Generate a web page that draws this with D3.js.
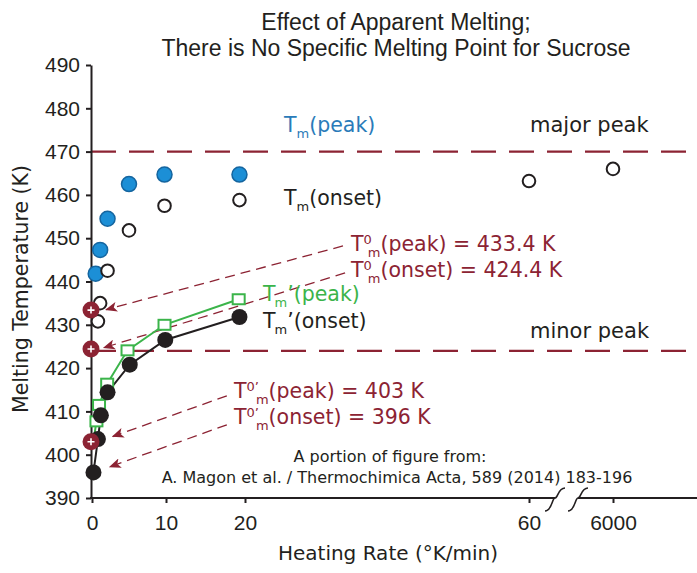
<!DOCTYPE html>
<html lang="en">
<head>
<meta charset="UTF-8">
<title>Effect of Apparent Melting</title>
<script src="https://d3js.org/d3.v7.min.js"></script>
<style>
    body { margin: 0; background: #fff; }
    svg { display: block; }
    text { font-family: "DejaVu Sans", sans-serif; }
</style>
</head>
<body>
<svg id="chart"></svg>
<script>
// heating rate (K/min) and temperature (K)
const rateTicks = [0, 10, 20, 60, 6000];
const tempTicks = [390, 400, 410, 420, 430, 440, 450, 460, 470, 480, 490];

// Tm(peak), filled blue
const peakRate = [0.5, 1.1, 2.1, 5, 9.8, 19.3];
const peakTemp = [441.8, 447.3, 454.5, 462.5, 464.7, 464.7];

// Tm(onset), open circles
const onsetRate = [0.8, 1.1, 2.1, 5, 9.8, 19.3, 60, 6000];
const onsetTemp = [430.8, 435.0, 442.5, 451.8, 457.5, 458.8, 463.2, 466.0];

// Tm'(peak), green squares
const slowPeakRate = [0.2, 0.6, 0.95, 2.05, 4.8, 9.8, 19.2];
const slowPeakTemp = [403.2, 407.7, 411.5, 416.4, 424.1, 430.0, 435.9];

// Tm'(onset), filled black
const slowOnsetRate = [0.2, 0.8, 1.2, 2.1, 5.1, 9.9, 19.3];
const slowOnsetTemp = [395.9, 403.6, 409.1, 414.4, 420.8, 426.5, 431.8];

// extrapolated zero-rate values marked on the axis
const extrapTemp = [433.4, 424.4, 403];

// major / minor peak levels
const peakLevels = [470, 424];

// arrows: tail -> head, in (rate, temperature)
const arrowFrom = [[33.8, 448.2], [34.1, 442.0], [17.7, 413.6], [17.7, 406.9]];
const arrowTo = [[1.9, 433.5], [1.6, 424.7], [2.8, 404.2], [2.4, 397.2]];

const W = 697, H = 573;
const maroon = "#8c2333", blue = "#1c8fd6", green = "#3bb44a", ink = "#231f20";

const svg = d3.select("#chart").attr("width", W).attr("height", H);

const x = d3.scaleLinear()
    .domain([0, 10, 20, 60, 6000])
    .range([92, 166, 245, 529, 613]);

const y = d3.scaleLinear()
    .domain([390, 490])
    .range([498, 65]);

const zip = (a, b) => a.map((v, i) => [v, b[i]]);

// title
svg.append("text").attr("x", 396).attr("y", 30).attr("text-anchor", "middle")
    .style("font-family", "Liberation Sans, Arial, sans-serif").style("font-size", "23px").attr("fill", ink)
    .text("Effect of Apparent Melting;");
svg.append("text").attr("x", 396).attr("y", 56).attr("text-anchor", "middle")
    .style("font-family", "Liberation Sans, Arial, sans-serif").style("font-size", "23px").attr("fill", ink)
    .text("There is No Specific Melting Point for Sucrose");

// dashed peak levels
svg.selectAll(".level").data(peakLevels).join("line")
    .attr("x1", 91).attr("x2", W)
    .attr("y1", d => y(d)).attr("y2", d => y(d))
    .attr("stroke", maroon).attr("stroke-width", 2.2)
    .attr("stroke-dasharray", "25,13");

// axes
const yAxis = svg.append("g").attr("transform", "translate(91,0)")
    .call(d3.axisLeft(y).tickValues(tempTicks).tickSize(5).tickSizeOuter(0).tickPadding(6));
yAxis.select(".domain").attr("stroke", ink).attr("stroke-width", 2);
yAxis.selectAll(".tick line").attr("stroke", ink).attr("stroke-width", 2);
yAxis.selectAll("text").style("font-family", "Liberation Sans, Arial, sans-serif")
    .style("font-size", "21px").attr("fill", ink);

const xAxis = svg.append("g").attr("transform", "translate(0,498)")
    .call(d3.axisBottom(x).tickValues(rateTicks).tickFormat(d3.format("d")).tickSize(5).tickPadding(12));
xAxis.select(".domain").remove();
xAxis.selectAll(".tick line").attr("stroke", ink).attr("stroke-width", 2);
xAxis.selectAll("text").style("font-family", "Liberation Sans, Arial, sans-serif")
    .style("font-size", "21px").attr("fill", ink);

// axis line with break
const b1 = x(60) + 26, b2 = x(60) + 49;
svg.append("line").attr("x1", 90).attr("x2", b1).attr("y1", 498).attr("y2", 498)
    .attr("stroke", ink).attr("stroke-width", 2);
svg.append("line").attr("x1", b2).attr("x2", W).attr("y1", 498).attr("y2", 498)
    .attr("stroke", ink).attr("stroke-width", 2);
[b1, b2].forEach(c => {
    svg.append("path")
        .attr("d", `M${c - 10},511 C${c - 3},511 ${c - 3},498 ${c},498 C${c + 3},498 ${c + 3},488 ${c + 10},488`)
        .attr("fill", "none").attr("stroke", ink).attr("stroke-width", 1.6);
});

// arrows
svg.append("defs").append("marker")
    .attr("id", "head").attr("viewBox", "0 0 12 10")
    .attr("refX", 11).attr("refY", 5)
    .attr("markerWidth", 12).attr("markerHeight", 10)
    .attr("markerUnits", "userSpaceOnUse").attr("orient", "auto")
    .append("path").attr("d", "M0,0 L12,5 L0,10 L3,5 Z").attr("fill", maroon);

svg.selectAll(".arrow").data(arrowFrom).join("line")
    .attr("x1", d => x(d[0])).attr("y1", d => y(d[1]))
    .attr("x2", (d, i) => x(arrowTo[i][0])).attr("y2", (d, i) => y(arrowTo[i][1]))
    .attr("stroke", maroon).attr("stroke-width", 1.3)
    .attr("stroke-dasharray", "10,6")
    .attr("marker-end", "url(#head)");

// lines
const line = d3.line().x(d => x(d[0])).y(d => y(d[1]));
svg.append("path").datum(zip(slowPeakRate, slowPeakTemp)).attr("d", line)
    .attr("fill", "none").attr("stroke", green).attr("stroke-width", 2);
svg.append("path").datum(zip(slowOnsetRate, slowOnsetTemp)).attr("d", line)
    .attr("fill", "none").attr("stroke", ink).attr("stroke-width", 2);

// Tm(peak)
svg.selectAll(".peak").data(zip(peakRate, peakTemp)).join("circle")
    .attr("cx", d => x(d[0])).attr("cy", d => y(d[1])).attr("r", 7.5)
    .attr("fill", blue).attr("stroke", "#15659f").attr("stroke-width", 1.5);

// Tm(onset)
svg.selectAll(".onset").data(zip(onsetRate, onsetTemp)).join("circle")
    .attr("cx", d => x(d[0])).attr("cy", d => y(d[1])).attr("r", 6.3)
    .attr("fill", "#fff").attr("stroke", ink).attr("stroke-width", 2);

// Tm'(peak)
svg.selectAll(".spk").data(zip(slowPeakRate, slowPeakTemp).slice(1)).join("rect")
    .attr("x", d => x(d[0]) - 6).attr("y", d => y(d[1]) - 5)
    .attr("width", 12).attr("height", 10)
    .attr("fill", "#fff").attr("stroke", green).attr("stroke-width", 2);

// Tm'(onset)
svg.selectAll(".son").data(zip(slowOnsetRate, slowOnsetTemp)).join("circle")
    .attr("cx", d => x(d[0])).attr("cy", d => y(d[1])).attr("r", 8)
    .attr("fill", ink);

// extrapolated points on the axis
const ext = svg.selectAll(".ext").data(extrapTemp).join("g")
    .attr("transform", d => `translate(${x(0) - 1},${y(d)})`);
ext.append("circle").attr("r", 8.5).attr("fill", maroon);
ext.append("path").attr("d", "M-3.5,0 H3.5 M0,-3.5 V3.5")
    .attr("stroke", "#fff").attr("stroke-width", 1.6);

// rich labels with sub/superscripts
function label(px, py, parts, color, size) {
    const t = svg.append("text").attr("x", px).attr("y", py)
        .attr("fill", color).style("font-size", size + "px");
    let shift = 0;
    parts.forEach(([str, kind, dx]) => {
        const target = kind === "sup" ? -7 : kind === "sub" ? 6 : 0;
        t.append("tspan").attr("dy", target - shift).attr("dx", dx || 0)
            .style("font-size", kind ? "13px" : null).text(str);
        shift = target;
    });
}

label(284, 132, [["T"], ["m", "sub"], ["(peak)"]], "#2a7bb9", 20.5);
label(284, 205, [["T"], ["m", "sub"], ["(onset)"]], ink, 20.5);
label(351, 251, [["T"], ["0", "sup"], ["m", "sub", -4], ["(peak) = 433.4 K"]], maroon, 20.5);
label(351, 277, [["T"], ["0", "sup"], ["m", "sub", -4], ["(onset) = 424.4 K"]], maroon, 20.5);
label(263, 301, [["T"], ["m", "sub", -1], ["\u2019(peak)"]], green, 20.5);
label(263, 328, [["T"], ["m", "sub", -1], ["\u2019(onset)"]], ink, 20.5);
label(234, 398, [["T"], ["0\u2019", "sup"], ["m", "sub", -3], ["(peak) = 403 K"]], maroon, 20.5);
label(234, 424, [["T"], ["0\u2019", "sup"], ["m", "sub", -3], ["(onset) = 396 K"]], maroon, 20.5);

svg.append("text").attr("x", 530).attr("y", 132).attr("fill", ink).style("font-size", "21px").text("major peak");
svg.append("text").attr("x", 530).attr("y", 338).attr("fill", ink).style("font-size", "21px").text("minor peak");

svg.append("text").attr("x", 390).attr("y", 462).attr("text-anchor", "middle")
    .attr("fill", ink).style("font-size", "16px").text("A portion of figure from:");
svg.append("text").attr("x", 397).attr("y", 483).attr("text-anchor", "middle")
    .attr("fill", ink).style("font-size", "16px")
    .text("A. Magon et al. / Thermochimica Acta, 589 (2014) 183-196");

// axis titles
svg.append("text").attr("x", 388).attr("y", 560).attr("text-anchor", "middle")
    .attr("fill", ink).style("font-size", "20px").text("Heating Rate (\u00b0K/min)");
svg.append("text").attr("transform", "translate(28,289) rotate(-90)").attr("text-anchor", "middle")
    .attr("fill", ink).style("font-size", "20.5px").text("Melting Temperature (K)");
</script>
</body>
</html>
